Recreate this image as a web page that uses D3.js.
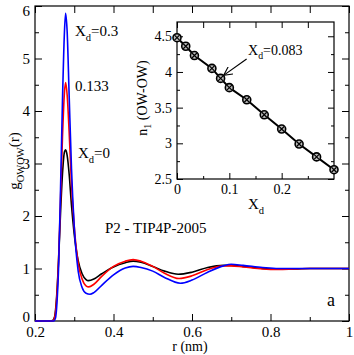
<!DOCTYPE html>
<html>
<head>
  <meta charset="utf-8">
  <title>g_OWOW(r)</title>
  <style>
  body { margin: 0; background: #fff; }
  svg text { font-family: "Liberation Serif", "DejaVu Serif", serif !important; fill: #000; }
  .axis path { display: none; }
  .axis line { stroke: #000; stroke-width: 1; }
  .axis text { font-size: 15px; }
  .inset .axis text { font-size: 14px; }
  </style>
</head>
<body>
  <div id="chart"></div>
  <script src="https://cdn.jsdelivr.net/npm/d3@7"></script>
  <script>
  // g(r) curves, r in nm
  var rBlack = [0.20, 0.24, 0.245, 0.25, 0.255, 0.26, 0.265, 0.27, 0.275, 0.278, 0.282, 0.287, 0.293, 0.30, 0.31, 0.32, 0.33, 0.336, 0.35, 0.37, 0.40, 0.43, 0.45, 0.47, 0.50, 0.53, 0.565, 0.60, 0.64, 0.68, 0.70, 0.73, 0.78, 0.82, 0.86, 0.90, 1.0];
  var gBlack = [0, 0, 0.01, 0.08, 0.45, 1.15, 2.05, 2.8, 3.22, 3.26, 3.15, 2.8, 2.2, 1.65, 1.15, 0.9, 0.79, 0.77, 0.8, 0.9, 1.03, 1.11, 1.14, 1.12, 1.04, 0.95, 0.89, 0.93, 1.02, 1.06, 1.06, 1.04, 1.0, 0.99, 0.99, 1.0, 1.0];

  var rRed = [0.20, 0.245, 0.25, 0.255, 0.26, 0.265, 0.27, 0.275, 0.278, 0.282, 0.287, 0.293, 0.30, 0.31, 0.32, 0.33, 0.337, 0.35, 0.37, 0.40, 0.43, 0.45, 0.47, 0.50, 0.53, 0.567, 0.60, 0.64, 0.68, 0.70, 0.73, 0.78, 0.82, 0.86, 0.90, 1.0];
  var gRed = [0, 0, 0.06, 0.4, 1.15, 2.3, 3.5, 4.35, 4.54, 4.3, 3.6, 2.6, 1.8, 1.1, 0.8, 0.67, 0.65, 0.7, 0.85, 1.04, 1.14, 1.17, 1.14, 1.04, 0.91, 0.81, 0.86, 0.98, 1.05, 1.05, 1.03, 0.99, 0.98, 0.99, 1.0, 1.0];

  var rBlue = [0.20, 0.248, 0.252, 0.256, 0.26, 0.265, 0.27, 0.275, 0.278, 0.282, 0.287, 0.293, 0.30, 0.31, 0.32, 0.33, 0.34, 0.35, 0.37, 0.40, 0.43, 0.45, 0.47, 0.50, 0.53, 0.57, 0.60, 0.64, 0.68, 0.70, 0.73, 0.78, 0.82, 0.86, 0.90, 1.0];
  var gBlue = [0, 0, 0.05, 0.35, 1.0, 2.5, 4.2, 5.5, 5.86, 5.5, 4.3, 2.9, 1.8, 0.95, 0.64, 0.53, 0.51, 0.54, 0.68, 0.88, 1.01, 1.04, 1.02, 0.95, 0.83, 0.72, 0.78, 0.93, 1.05, 1.08, 1.06, 1.02, 1.0, 1.0, 1.0, 1.0];

  // inset: coordination number vs X_d
  var xd = [0, 0.0167, 0.0333, 0.0667, 0.0833, 0.1, 0.1333, 0.1667, 0.2, 0.2333, 0.2667, 0.3];
  var n1 = [4.48, 4.36, 4.23, 4.05, 3.91, 3.78, 3.61, 3.40, 3.20, 2.99, 2.81, 2.63];

  var xTicks = [0.2, 0.4, 0.6, 0.8, 1];
  var yTicks = [0, 1, 2, 3, 4, 5, 6];
  var xiTicks = [0, 0.1, 0.2];
  var yiTicks = [2.5, 3, 3.5, 4, 4.5];

  var series = [
    {r: rBlack, g: gBlack, color: "#000"},
    {r: rRed, g: gRed, color: "#ff0000"},
    {r: rBlue, g: gBlue, color: "#0000ff"}
  ];

  var W = 354, H = 355;
  var FONT = "Liberation Serif, DejaVu Serif, serif";
  var svg = d3.select("#chart").append("svg")
    .attr("width", W).attr("height", H)
    .attr("font-family", FONT);

  var x = d3.scaleLinear().domain([0.2, 1]).range([35, 349]);
  var y = d3.scaleLinear().domain([0, 6]).range([321, 6]);

  function fmt(d) { return d3.format("")(d); }

  //axes: ticks inside, labels on bottom/left only
  function axes(g, xs, ys, xt, xm, yt, ym, big, small) {
    var x0 = xs.range()[0], x1 = xs.range()[1];
    var y0 = ys.range()[0], y1 = ys.range()[1];
    g.append("g").attr("class", "axis").attr("transform", "translate(0," + y0 + ")")
      .call(d3.axisBottom(xs).tickValues(xt).tickSize(-big).tickPadding(5).tickFormat(fmt));
    g.append("g").attr("class", "axis").attr("transform", "translate(0," + y0 + ")")
      .call(d3.axisBottom(xs).tickValues(xm).tickSize(-small).tickFormat(""));
    g.append("g").attr("class", "axis").attr("transform", "translate(0," + y1 + ")")
      .call(d3.axisTop(xs).tickValues(xt.concat(xm)).tickSize(-big).tickFormat(""));
    g.append("g").attr("class", "axis").attr("transform", "translate(" + x0 + ",0)")
      .call(d3.axisLeft(ys).tickValues(yt).tickSize(-big).tickPadding(5).tickFormat(fmt));
    g.append("g").attr("class", "axis").attr("transform", "translate(" + x0 + ",0)")
      .call(d3.axisLeft(ys).tickValues(ym).tickSize(-small).tickFormat(""));
    g.append("g").attr("class", "axis").attr("transform", "translate(" + x1 + ",0)")
      .call(d3.axisRight(ys).tickValues(yt).tickSize(-big).tickFormat(""));
    g.append("g").attr("class", "axis").attr("transform", "translate(" + x1 + ",0)")
      .call(d3.axisRight(ys).tickValues(ym).tickSize(-small).tickFormat(""));
    g.selectAll(".axis").attr("font-family", FONT);
    g.append("rect").attr("x", x0).attr("y", y1)
      .attr("width", x1 - x0).attr("height", y0 - y1)
      .attr("fill", "none").attr("stroke", "#000").attr("stroke-width", 1.2);
  }

  var main = svg.append("g");
  axes(main, x, y, xTicks, [0.3, 0.5, 0.7, 0.9], yTicks, [0.5, 1.5, 2.5, 3.5, 4.5, 5.5], 7, 4);
  //keep the top "6" inside the picture, lift the "0" off the x labels
  main.selectAll(".axis text").filter(function(d) { return d === 6; }).attr("dy", "0.6em");
  main.selectAll(".axis text").filter(function(d) { return d === 0; }).attr("dy", "0.05em");

  var line = d3.line()
    .x(function(d) { return x(d[0]); })
    .y(function(d) { return y(d[1]); })
    .curve(d3.curveMonotoneX);

  main.selectAll(".curve").data(series).enter().append("path")
    .attr("class", "curve")
    .attr("fill", "none")
    .attr("stroke", function(d) { return d.color; })
    .attr("stroke-width", 1.6)
    .attr("d", function(d) { return line(d.r.map(function(r, i) { return [r, d.g[i]]; })); });

  //labels with subscripts
  function label(g, px, py, parts, size) {
    var t = g.append("text").attr("x", px).attr("y", py)
      .attr("font-family", FONT).style("font-size", size + "px");
    parts.forEach(function(p) {
      var s = t.append("tspan").text(p[0]);
      if (p[1] == "sub") s.attr("dy", size * 0.3).style("font-size", (size * 0.7) + "px");
      else if (p[1] == "up") s.attr("dy", -size * 0.3);
    });
    return t;
  }

  label(main, 75, 36, [["X"], ["d", "sub"], ["=0.3", "up"]], 15);
  label(main, 75, 91, [["0.133"]], 15);
  label(main, 78, 158, [["X"], ["d", "sub"], ["=0", "up"]], 15);
  label(main, 105, 233, [["P2 - TIP4P-2005"]], 15);
  label(main, 327, 306, [["a"]], 18);

  label(main, 190, 351, [["r (nm)"]], 14).attr("text-anchor", "middle");
  label(main, 0, 0, [["g"], ["OWOW", "sub"], ["(r)", "up"]], 15)
    .attr("text-anchor", "middle")
    .attr("transform", "translate(19,161) rotate(-90)");

  //inset
  var xi = d3.scaleLinear().domain([0, 0.3]).range([177, 334]);
  var yi = d3.scaleLinear().domain([2.5, 4.7]).range([179, 22]);
  var inset = svg.append("g").attr("class", "inset");
  inset.append("rect").attr("x", 177).attr("y", 22).attr("width", 157).attr("height", 157).attr("fill", "#fff");
  axes(inset, xi, yi, xiTicks, [0.05, 0.15, 0.25], yiTicks, [2.75, 3.25, 3.75, 4.25], 6, 3);

  var pts = xd.map(function(v, i) { return [v, n1[i]]; });
  inset.append("path")
    .attr("fill", "none").attr("stroke", "#000").attr("stroke-width", 2)
    .attr("d", d3.line().x(function(d) { return xi(d[0]); }).y(function(d) { return yi(d[1]); })(pts));

  var mk = inset.selectAll(".mk").data(pts).enter().append("g")
    .attr("transform", function(d) { return "translate(" + xi(d[0]) + "," + yi(d[1]) + ")"; });
  mk.append("circle").attr("r", 4).attr("fill", "#bbb").attr("stroke", "#000").attr("stroke-width", 1.6);
  mk.append("path").attr("d", "M-2.5,-2.5L2.5,2.5M-2.5,2.5L2.5,-2.5").attr("stroke", "#000").attr("stroke-width", 1.2);

  //arrow to X_d=0.083
  svg.append("defs").append("marker").attr("id", "ah")
    .attr("viewBox", "0 0 10 10").attr("refX", 10).attr("refY", 5)
    .attr("markerWidth", 9).attr("markerHeight", 9).attr("orient", "auto")
    .attr("markerUnits", "userSpaceOnUse")
    .append("path").attr("d", "M0,0L10,5L0,10").attr("fill", "none").attr("stroke", "#000").attr("stroke-width", 1.2);
  inset.append("line")
    .attr("x1", xi(0.133)).attr("y1", yi(4.18))
    .attr("x2", xi(0.0833) + 3).attr("y2", yi(3.91) - 3)
    .attr("stroke", "#000").attr("stroke-width", 1.2).attr("marker-end", "url(#ah)");
  label(inset, 248, 55, [["X"], ["d", "sub"], ["=0.083", "up"]], 14);

  label(inset, 248, 209, [["X"], ["d", "sub"]], 15);
  label(inset, 0, 0, [["n"], ["1", "sub"], [" (OW-OW)", "up"]], 14)
    .attr("text-anchor", "middle")
    .attr("transform", "translate(147,98) rotate(-90)");
  </script>
</body>
</html>
